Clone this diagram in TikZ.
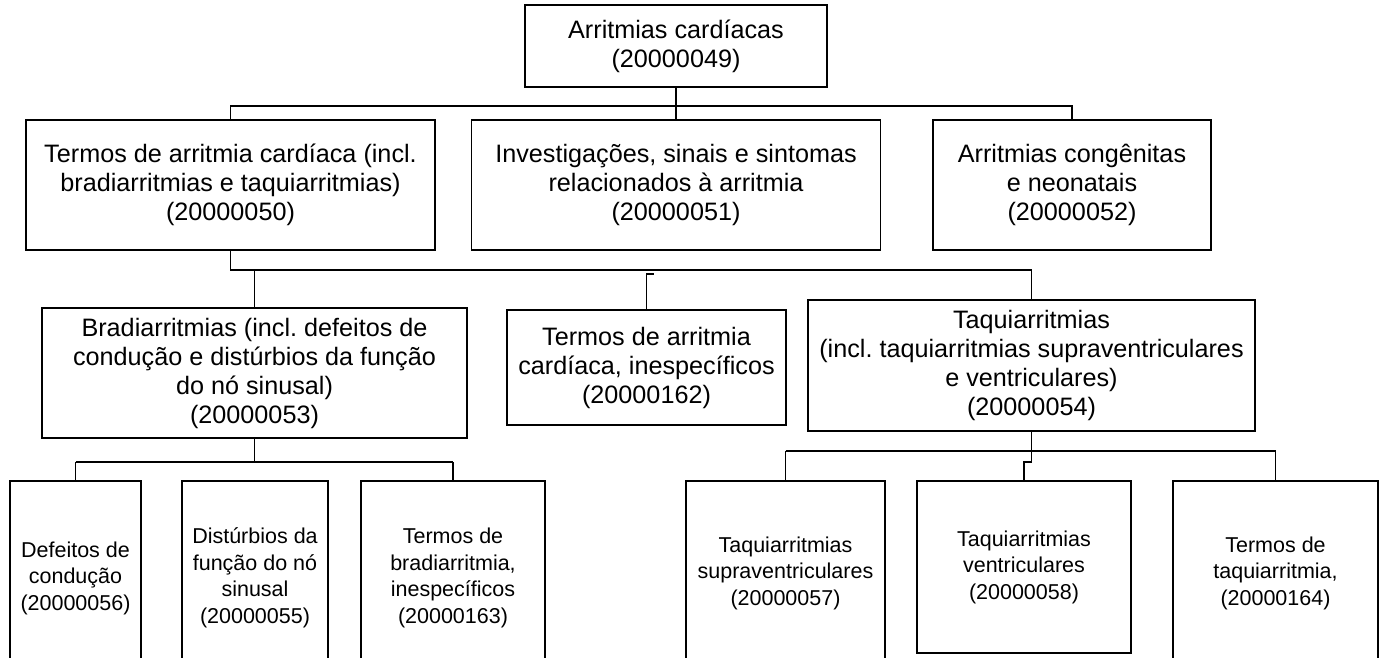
\documentclass[tikz,border=0pt]{standalone}
\usepackage{fontspec}
\setmainfont{Liberation Sans}
\frenchspacing

\begin{document}
\begin{tikzpicture}[x=1pt,y=-1pt,
        box/.style={draw, align=center, inner sep=0pt, font=\fontsize{25.2}{29}\selectfont},
        leafbox/.style={box, font=\fontsize{21.5}{26.5}\selectfont}]
            \useasboundingbox (0,0) rectangle (1382,657);
            \clip (0,0) rectangle (1382,657);
            \begin{scope}[line width=1.8pt]
                % top level
                \node[box, minimum width=302pt, minimum height=82pt] (root) at (676,46) {Arritmias cardíacas\\(20000049)};
                \node[box, minimum width=409pt, minimum height=130pt] (termos) at (230.5,185) {Termos de arritmia cardíaca (incl.\\bradiarritmias e taquiarritmias)\\(20000050)};
                \node[box, minimum width=409pt, minimum height=130pt] (invest) at (676,185) {Investigações, sinais e sintomas\\relacionados à arritmia\\(20000051)};
                \node[box, minimum width=278pt, minimum height=130pt] (congen) at (1072,185) {Arritmias congênitas\\e neonatais\\(20000052)};
                % middle level
                \node[box, minimum width=425pt, minimum height=130pt] (bradi) at (254.5,373) {Bradiarritmias (incl. defeitos de\\condução e distúrbios da função\\do nó sinusal)\\(20000053)};
                \node[box, minimum width=279pt, minimum height=115pt] (inesp) at (646.5,367.5) {Termos de arritmia\\cardíaca, inespecíficos\\(20000162)};
                \node[box, minimum width=447pt, minimum height=131pt] (taqui) at (1031.5,365.5) {Taquiarritmias\\(incl. taquiarritmias supraventriculares\\e ventriculares)\\(20000054)};
                % bottom level (cut off by the page edge)
                \node[leafbox, minimum width=131pt, minimum height=194pt] (defeitos) at (75.5,578) {Defeitos de\\condução\\(20000056)};
                \node[leafbox, minimum width=146pt, minimum height=194pt] (disturb) at (255,578) {Distúrbios da\\função do nó\\sinusal\\(20000055)};
                \node[leafbox, minimum width=184pt, minimum height=194pt] (termbrad) at (453,578) {Termos de\\bradiarritmia,\\inespecíficos\\(20000163)};
                \node[leafbox, minimum width=199pt, minimum height=184pt] (supra) at (785.5,573) {Taquiarritmias\\supraventriculares\\(20000057)};
                \node[leafbox, minimum width=214pt, minimum height=172pt] (ventr) at (1024,567) {Taquiarritmias\\ventriculares\\(20000058)};
                \node[leafbox, minimum width=205pt, minimum height=184pt] (termtaqui) at (1275.5,573) {Termos de\\taquiarritmia,\\(20000164)};

                % bus lines
                \coordinate (bus1) at (0,106);
                \coordinate (bus2) at (0,270);
                \coordinate (bus3) at (0,451);
                \coordinate (bus4) at (0,462);

                % connectors
                \draw (root.south) -- (invest.north);
                \draw (termos.north) -- (termos.north |- bus1) -- (congen.north |- bus1) -- (congen.north);
                \draw (termos.south) -- (termos.south |- bus2) -- (taqui.north |- bus2) -- (taqui.north);
                \draw (bradi.north) -- (bradi.north |- bus2);
                \draw (inesp.north) -- ++(0,-35) -- ++(7,0);
                \draw (bradi.south) -- (bradi.south |- bus4);
                \draw (defeitos.north |- bus4) -- (termbrad.north |- bus4);
                \foreach \b in {defeitos,termbrad}{
                    \draw (\b.north) -- (\b.north |- bus4);
                }
                \draw (taqui.south) -- ++(0,30) -| (ventr.north);
                \draw (supra.north |- bus3) -- (termtaqui.north |- bus3);
                \foreach \b in {supra,termtaqui}{
                    \draw (\b.north) -- (\b.north |- bus3);
                }
            \end{scope}
        \end{tikzpicture}
\end{document}
